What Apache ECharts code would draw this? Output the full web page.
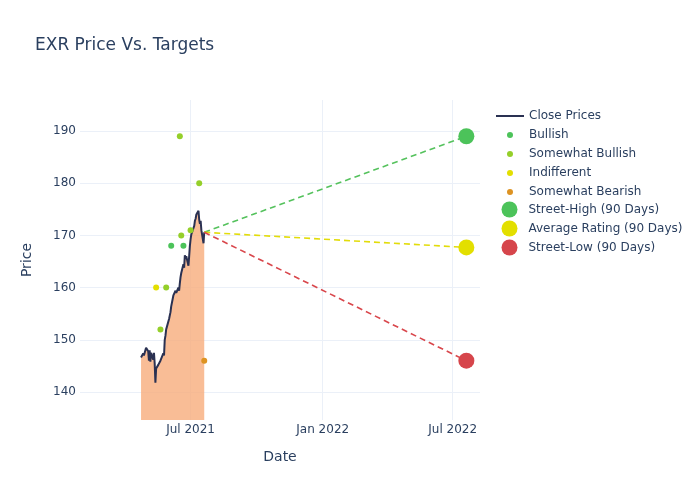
<!DOCTYPE html>
<html>
<head>
<meta charset="utf-8">
<title>EXR Price Vs. Targets</title>
<script src="https://cdn.jsdelivr.net/npm/echarts@6/dist/echarts.min.js"></script>
<style>
  html, body { margin: 0; padding: 0; background: #fff; }
  #chart { width: 700px; height: 500px; }
</style>
</head>
<body>
<div id="chart"></div>
<script>
// close prices (daily)
var priceDates = [
    '2021-04-23','2021-04-26','2021-04-27','2021-04-28','2021-04-29','2021-04-30',
    '2021-05-03','2021-05-04','2021-05-05','2021-05-06','2021-05-07',
    '2021-05-10','2021-05-11','2021-05-12','2021-05-13','2021-05-14',
    '2021-05-17','2021-05-18','2021-05-19','2021-05-20','2021-05-21',
    '2021-05-24','2021-05-25','2021-05-26','2021-05-27','2021-05-28',
    '2021-06-01','2021-06-02','2021-06-03','2021-06-04',
    '2021-06-07','2021-06-08','2021-06-09','2021-06-10','2021-06-11',
    '2021-06-14','2021-06-15','2021-06-16','2021-06-17','2021-06-18',
    '2021-06-21','2021-06-22','2021-06-23','2021-06-24','2021-06-25',
    '2021-06-28','2021-06-29','2021-06-30',
    '2021-07-01','2021-07-02','2021-07-06','2021-07-07','2021-07-08','2021-07-09',
    '2021-07-12','2021-07-13','2021-07-14','2021-07-15','2021-07-16',
    '2021-07-19','2021-07-20'
];
var closePrices = [
    146.6,147.4,147.0,147.2,146.8,148.5,
    147.8,146.0,148.0,145.8,147.5,
    146.2,147.5,145.5,141.8,144.5,
    145.2,144.9,145.4,146.0,145.7,
    147.4,147.0,150.0,150.8,152.0,
    154.0,154.2,155.3,156.4,
    158.5,158.8,158.3,159.4,159.0,
    160.0,159.4,160.8,162.0,162.8,
    164.5,163.8,166.2,165.5,166.0,
    164.2,166.0,168.0,
    169.3,170.2,171.8,172.8,173.2,174.0,
    174.7,173.0,172.2,172.8,171.0,
    168.5,170.6
];

// analyst ratings
var bullishDates = ['2021-06-04','2021-06-21'];
var bullishPrices = [168, 168];
var someBullishDates = ['2021-05-20','2021-05-28','2021-06-16','2021-06-18','2021-07-01','2021-07-13'];
var someBullishPrices = [152, 160, 189, 170, 171, 180];
var indifferentDates = ['2021-05-14'];
var indifferentPrices = [160];
var someBearishDates = ['2021-07-20'];
var someBearishPrices = [146];

// 90 day targets
var targetDate = '2022-07-20';
var streetHigh = 189;
var averageRating = 167.7;
var streetLow = 146;

var xTicks = ['2021-07-01','2022-01-01','2022-07-01'];
var yTicks = [140, 150, 160, 170, 180, 190];
var monthNames = ['Jan','Feb','Mar','Apr','May','Jun','Jul','Aug','Sep','Oct','Nov','Dec'];

var textColor = '#2a3f5f';
var gridColor = '#EBF0F8';
var fontName = 'DejaVu Sans';

//日期字符串转成时间戳
function ts(s){
    return Date.parse(s + 'T00:00:00Z');
}
function pairs(dates, values){
    var out = [];
    for (var i = 0; i < dates.length; i++) {
        out.push([ts(dates[i]), values[i]]);
    }
    return out;
}

function loadChart(){
    var mychart = echarts.init(document.getElementById('chart'));
    var lastDate = priceDates[priceDates.length - 1];
    var lastPrice = closePrices[closePrices.length - 1];

    function scatter(name, data, color, size){
        return {
            name: name,
            type: 'scatter',
            data: data,
            symbolSize: size,
            itemStyle: { color: color, opacity: 1 },
            z: 5
        };
    }
    function dashed(name, value, color){
        return {
            name: name,
            type: 'line',
            data: [[ts(lastDate), lastPrice], [ts(targetDate), value]],
            showSymbol: false,
            lineStyle: { color: color, width: 1.6, type: [6, 4] },
            z: 4
        };
    }
    var legendText = { color: textColor, fontSize: 12, lineHeight: 19, fontFamily: fontName };

    var option = {
        animation: false,
        backgroundColor: '#fff',
        textStyle: { fontFamily: fontName },
        title: {
            text: 'EXR Price Vs. Targets',
            left: 30,
            top: 32,
            textStyle: { color: textColor, fontSize: 17, fontWeight: 'normal', fontFamily: fontName }
        },
        legend: [
            {
                data: [{ name: 'Close Prices', icon: 'rect' }],
                orient: 'vertical', left: 496, top: 106.5, padding: 0, itemGap: 0,
                itemWidth: 28, itemHeight: 2,
                textStyle: legendText
            },
            {
                data: ['Bullish', 'Somewhat Bullish', 'Indifferent', 'Somewhat Bearish'],
                icon: 'circle',
                orient: 'vertical', left: 507, top: 125.5, padding: 0, itemGap: 0,
                itemWidth: 28, itemHeight: 6,
                textStyle: legendText
            },
            {
                data: ['Street-High (90 Days)', 'Average Rating (90 Days)', 'Street-Low (90 Days)'],
                icon: 'circle',
                orient: 'vertical', left: 501.5, top: 200, padding: 0, itemGap: 0,
                itemWidth: 28, itemHeight: 16,
                textStyle: legendText
            }
        ],
        grid: { left: 80, right: 220, top: 100, bottom: 80 },
        xAxis: {
            type: 'value',
            min: ts('2021-01-28'),
            max: ts('2022-08-08'),
            name: 'Date',
            nameLocation: 'middle',
            nameGap: 30,
            nameTextStyle: { color: textColor, fontSize: 14, fontFamily: fontName },
            axisLine: { show: false },
            axisTick: { show: false, customValues: xTicks.map(ts) },
            axisLabel: {
                customValues: xTicks.map(ts),
                color: textColor, fontSize: 12, margin: 4, fontFamily: fontName,
                formatter: function(v){
                    var d = new Date(v);
                    return monthNames[d.getUTCMonth()] + ' ' + d.getUTCFullYear();
                }
            },
            splitLine: { show: true, lineStyle: { color: gridColor, width: 1 } }
        },
        yAxis: {
            type: 'value',
            min: 134.64,
            max: 195.94,
            name: 'Price',
            nameLocation: 'middle',
            nameGap: 46,
            nameTextStyle: { color: textColor, fontSize: 14, fontFamily: fontName },
            axisLine: { show: false },
            axisTick: { show: false, customValues: yTicks },
            axisLabel: { customValues: yTicks, color: textColor, fontSize: 12, margin: 4, fontFamily: fontName },
            splitLine: { show: true, lineStyle: { color: gridColor, width: 1 } }
        },
        series: [
            {
                name: 'Close Prices',
                type: 'line',
                data: pairs(priceDates, closePrices),
                showSymbol: false,
                lineStyle: { color: '#2A3152', width: 2 },
                itemStyle: { color: '#2A3152' },
                areaStyle: { color: 'rgba(248,172,124,0.8)', opacity: 1 },
                z: 2
            },
            dashed('high line', streetHigh, '#55C25D'),
            dashed('avg line', averageRating, '#E2DC0A'),
            dashed('low line', streetLow, '#D9474C'),
            scatter('Bullish', pairs(bullishDates, bullishPrices), '#4CC35A', 6),
            scatter('Somewhat Bullish', pairs(someBullishDates, someBullishPrices), '#95CF2A', 6),
            scatter('Indifferent', pairs(indifferentDates, indifferentPrices), '#E3DF00', 6),
            scatter('Somewhat Bearish', pairs(someBearishDates, someBearishPrices), '#DD9322', 6),
            scatter('Street-High (90 Days)', [[ts(targetDate), streetHigh]], '#4CC35A', 16),
            scatter('Average Rating (90 Days)', [[ts(targetDate), averageRating]], '#E3DF00', 16),
            scatter('Street-Low (90 Days)', [[ts(targetDate), streetLow]], '#D6454B', 16)
        ]
    };
    mychart.setOption(option);
}
loadChart();
</script>
</body>
</html>
